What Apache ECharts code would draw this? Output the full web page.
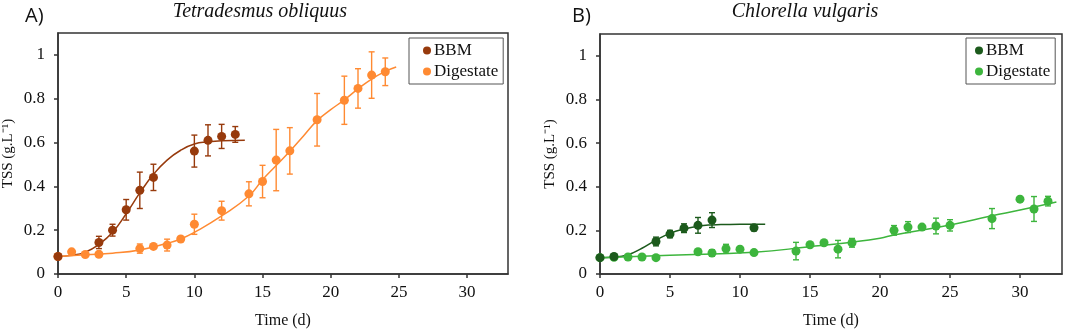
<!DOCTYPE html>
<html>
<head>
<meta charset="utf-8">
<script src="https://cdn.jsdelivr.net/npm/echarts@6/dist/echarts.min.js"></script>
<style>
  html, body { margin: 0; padding: 0; background: #fff; }
  #chart { width: 1065px; height: 334px; }
</style>
</head>
<body>
<div id="chart"></div>
<script>
// panel A - Tetradesmus obliquus
const aBbmTime = [0, 3, 4, 5, 6, 7, 10, 11, 12, 13]
const aBbmMean = [0.08, 0.144, 0.2, 0.293, 0.382, 0.441, 0.561, 0.61, 0.628, 0.637]
const aBbmErr = [0, 0.028, 0.027, 0.047, 0.083, 0.06, 0.073, 0.071, 0.055, 0.036]
const aDigTime = [0, 1, 2, 3, 6, 7, 8, 9, 10, 12, 14, 15, 16, 17, 19, 21, 22, 23, 24]
const aDigMean = [0.08, 0.101, 0.089, 0.09, 0.116, 0.126, 0.132, 0.16, 0.227, 0.289, 0.366, 0.422, 0.52, 0.562, 0.704, 0.793, 0.847, 0.908, 0.923]
const aDigErr = [0, 0, 0, 0, 0.021, 0.008, 0.027, 0.008, 0.046, 0.043, 0.055, 0.074, 0.14, 0.106, 0.12, 0.11, 0.09, 0.106, 0.063]
// fitted curves
const aBbmFitTime = [0, 1, 2, 3, 4, 5, 6, 7, 8, 9, 10, 11, 12, 13.7]
const aBbmFitVal = [0.08, 0.085, 0.1, 0.135, 0.19, 0.275, 0.37, 0.455, 0.52, 0.565, 0.593, 0.603, 0.608, 0.61]
const aDigFitTime = [0, 2, 4, 6, 8, 9, 10, 12, 14, 15, 16, 17, 18, 19, 20, 21, 22, 23, 24, 24.8]
const aDigFitVal = [0.08, 0.088, 0.095, 0.11, 0.14, 0.16, 0.19, 0.265, 0.356, 0.43, 0.495, 0.56, 0.63, 0.7, 0.75, 0.795, 0.845, 0.89, 0.925, 0.945]

// panel B - Chlorella vulgaris
const bBbmTime = [0, 1, 4, 5, 6, 7, 8, 11]
const bBbmMean = [0.075, 0.08, 0.149, 0.183, 0.21, 0.223, 0.247, 0.212]
const bBbmErr = [0, 0, 0.02, 0.017, 0.02, 0.036, 0.034, 0.014]
const bDigTime = [0, 1, 2, 3, 4, 7, 8, 9, 10, 11, 14, 15, 16, 17, 18, 21, 22, 23, 24, 25, 28, 30, 31, 32]
const bDigMean = [0.075, 0.077, 0.078, 0.078, 0.075, 0.102, 0.096, 0.116, 0.114, 0.098, 0.105, 0.134, 0.143, 0.114, 0.143, 0.2, 0.215, 0.215, 0.22, 0.223, 0.254, 0.343, 0.298, 0.334]
const bDigErr = [0, 0, 0, 0, 0, 0.01, 0.015, 0.02, 0, 0, 0.04, 0, 0, 0.04, 0.02, 0.022, 0.025, 0, 0.036, 0.026, 0.046, 0, 0.057, 0.022]
const bBbmFitTime = [0, 1, 2, 3, 4, 5, 6, 7, 8, 9, 10, 11.8]
const bBbmFitVal = [0.075, 0.077, 0.088, 0.118, 0.155, 0.186, 0.206, 0.219, 0.225, 0.227, 0.228, 0.228]
const bDigFitTime = [0, 5, 11, 15, 18, 20, 21, 25, 28, 30, 32.6]
const bDigFitVal = [0.075, 0.086, 0.1, 0.125, 0.146, 0.164, 0.179, 0.225, 0.267, 0.293, 0.33]

const xTicks = [0, 5, 10, 15, 20, 25, 30]
const yTicks = [0, 0.2, 0.4, 0.6, 0.8, 1]

const colors = {
  aBbm: '#973a0c',
  aDig: '#ff8a32',
  bBbm: '#1c5a1c',
  bDig: '#3db53d'
}

const serif = '"Liberation Serif", "Times New Roman", serif'

function pairs(t, v) {
  return t.map((x, i) => [x, v[i]])
}
function triples(t, m, e) {
  return t.map((x, i) => [x, m[i], e[i]])
}

function errorBars(name, idx, t, m, e, color) {
  return {
    name: name,
    type: 'custom',
    xAxisIndex: idx,
    yAxisIndex: idx,
    z: 3,
    itemStyle: { color: color },
    data: triples(t, m, e).filter(d => d[2] > 0),
    renderItem: function (params, api) {
      const x = api.value(0)
      const y = api.value(1)
      const err = api.value(2)
      const hi = api.coord([x, y + err])
      const lo = api.coord([x, y - err])
      const w = 3
      const st = { stroke: color, lineWidth: 1.4 }
      return {
        type: 'group',
        children: [
          { type: 'line', shape: { x1: hi[0], y1: hi[1], x2: lo[0], y2: lo[1] }, style: st },
          { type: 'line', shape: { x1: hi[0] - w, y1: hi[1], x2: hi[0] + w, y2: hi[1] }, style: st },
          { type: 'line', shape: { x1: lo[0] - w, y1: lo[1], x2: lo[0] + w, y2: lo[1] }, style: st }
        ]
      }
    }
  }
}

function fitLine(name, idx, t, v, color) {
  return {
    name: name,
    type: 'line',
    xAxisIndex: idx,
    yAxisIndex: idx,
    smooth: true,
    showSymbol: false,
    z: 2,
    itemStyle: { color: color },
    lineStyle: { color: color, width: 1.5 },
    data: pairs(t, v)
  }
}

function points(name, idx, t, m, color) {
  return {
    name: name,
    type: 'scatter',
    xAxisIndex: idx,
    yAxisIndex: idx,
    symbol: 'circle',
    symbolSize: 9,
    z: 4,
    itemStyle: { color: color, opacity: 1 },
    data: pairs(t, m)
  }
}

function xAxis(idx) {
  return {
    type: 'value',
    gridIndex: idx,
    min: 0,
    max: 33,
    name: 'Time (d)',
    nameLocation: 'middle',
    nameGap: 39,
    nameTextStyle: { fontFamily: serif, fontSize: 16, color: '#111' },
    splitLine: { show: false },
    axisLine: { onZero: false, lineStyle: { color: '#333', width: 1.5 } },
    axisTick: { customValues: xTicks, length: 4, lineStyle: { color: '#333', width: 1.5 } },
    axisLabel: { customValues: xTicks, fontFamily: serif, fontSize: 17, color: '#111', margin: 10 }
  }
}

function yAxis(idx) {
  return {
    type: 'value',
    gridIndex: idx,
    min: 0,
    max: 1.1,
    name: 'TSS (g.L\u207B\u00B9)',
    nameLocation: 'middle',
    nameGap: 42,
    nameRotate: 90,
    nameTextStyle: { fontFamily: serif, fontSize: 15, color: '#111' },
    splitLine: { show: false },
    axisLine: { show: true, onZero: false, lineStyle: { color: '#333', width: 1.5 } },
    axisTick: { show: true, customValues: yTicks, length: 4, lineStyle: { color: '#333', width: 1.5 } },
    axisLabel: { customValues: yTicks, fontFamily: serif, fontSize: 17, color: '#111', margin: 13 }
  }
}

function legend(left, top, names, padLeft) {
  return {
    orient: 'vertical',
    left: left,
    top: top,
    data: names,
    icon: 'circle',
    itemWidth: 8,
    itemHeight: 8,
    itemGap: 4,
    padding: [4, 5, 4, padLeft],
    borderColor: '#555',
    borderWidth: 1,
    selectedMode: false,
    formatter: name => name.slice(2),
    textStyle: { fontFamily: serif, fontSize: 17, color: '#111', padding: [0, 0, 0, -2] }
  }
}

const chart = echarts.init(document.getElementById('chart'), null, { renderer: 'canvas' })

const option = {
  animation: false,
  backgroundColor: '#fff',
  graphic: [
    { type: 'text', left: 25, top: 6, style: { text: 'A)', font: '20px "Open Sans", sans-serif', fill: '#111' } },
    { type: 'text', x: 260, y: 2, style: { text: 'Tetradesmus obliquus', font: 'italic 20px ' + serif, fill: '#111', textAlign: 'center' } },
    { type: 'text', left: 572, top: 6, style: { text: 'B)', font: '20px "Open Sans", sans-serif', fill: '#111' } },
    { type: 'text', x: 805, y: 2, style: { text: 'Chlorella vulgaris', font: 'italic 20px ' + serif, fill: '#111', textAlign: 'center' } }
  ],
  grid: [
    { left: 58, top: 33, right: 557, bottom: 54, show: true, borderColor: '#333', borderWidth: 1.5 },
    { left: 600, top: 34, right: 3, bottom: 54, show: true, borderColor: '#333', borderWidth: 1.5 }
  ],
  legend: [
    legend(409, 38, ['A BBM', 'A Digestate'], 14),
    legend(966, 38, ['B BBM', 'B Digestate'], 9)
  ],
  xAxis: [xAxis(0), xAxis(1)],
  yAxis: [yAxis(0), yAxis(1)],
  series: [
    fitLine('A BBM', 0, aBbmFitTime, aBbmFitVal, colors.aBbm),
    fitLine('A Digestate', 0, aDigFitTime, aDigFitVal, colors.aDig),
    errorBars('A BBM', 0, aBbmTime, aBbmMean, aBbmErr, colors.aBbm),
    errorBars('A Digestate', 0, aDigTime, aDigMean, aDigErr, colors.aDig),
    points('A Digestate', 0, aDigTime, aDigMean, colors.aDig),
    points('A BBM', 0, aBbmTime, aBbmMean, colors.aBbm),
    fitLine('B BBM', 1, bBbmFitTime, bBbmFitVal, colors.bBbm),
    fitLine('B Digestate', 1, bDigFitTime, bDigFitVal, colors.bDig),
    errorBars('B BBM', 1, bBbmTime, bBbmMean, bBbmErr, colors.bBbm),
    errorBars('B Digestate', 1, bDigTime, bDigMean, bDigErr, colors.bDig),
    points('B Digestate', 1, bDigTime, bDigMean, colors.bDig),
    points('B BBM', 1, bBbmTime, bBbmMean, colors.bBbm)
  ]
}

chart.setOption(option)
</script>
</body>
</html>
